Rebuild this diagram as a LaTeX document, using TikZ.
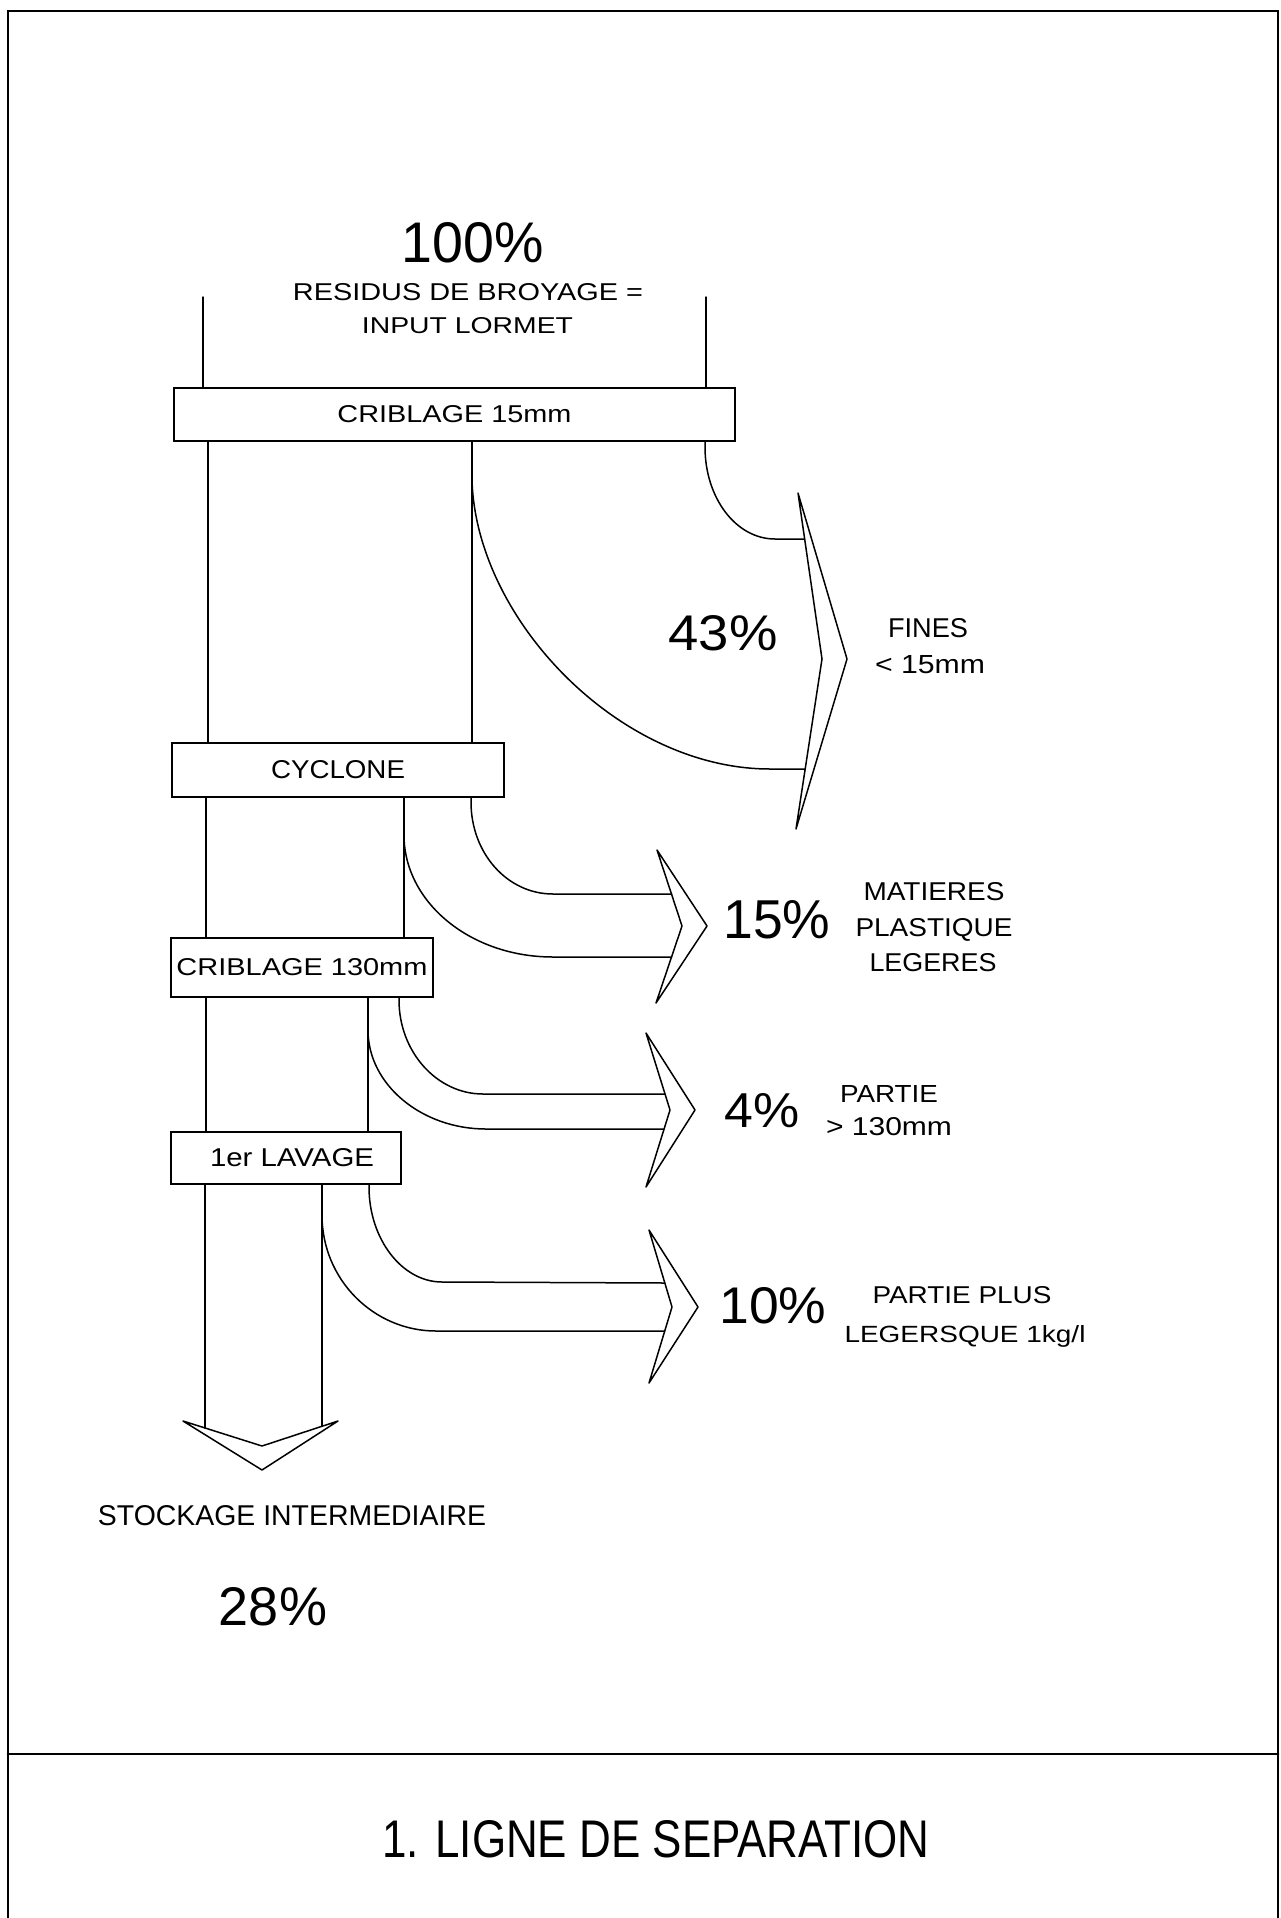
\documentclass[tikz,border=0pt]{standalone}
\usepackage{fontspec}
\setmainfont{Liberation Sans}
\usepackage{graphicx}
\newcommand{\fx}[3]{\resizebox{#1pt}{#2pt}{#3}}
\tikzset{
  ln/.style={line width=1.5pt, line cap=round, line join=round},
  frameline/.style={line width=2.8pt, line cap=round},
  box/.style={draw, line width=1.8pt, inner sep=0pt, outer sep=0pt},
  lbl/.style={inner sep=0pt, outer sep=0pt, anchor=base},
}
\begin{document}
\begin{tikzpicture}[x=1pt,y=-1pt]
\useasboundingbox (0,0) rectangle (1280,1918);
\fill[white] (0,0) rectangle (1280,1918);
% frame
\coordinate (fbl) at (8,1918);
\coordinate (ftl) at (8,11);
\coordinate (ftr) at (1278,11);
\coordinate (fbr) at (1278,1918);
\coordinate (fsl) at (8,1754);
\coordinate (fsr) at (1278,1754);
\draw[frameline] (fbl) -- (ftl) -- (ftr) -- (fbr);
\draw[frameline] (fsl) -- (fsr);

% header texts
\node[lbl] (t100) at (473,263) {\fx{142}{40}{100\%}};
\node[lbl] (tres) at (468,300) {\fx{350}{17}{RESIDUS DE BROYAGE =}};
\node[lbl] (tinp) at (467.5,333) {\fx{211}{16}{INPUT LORMET}};

% boxes
\node[box, minimum width=561pt, minimum height=53pt] (b1) at (454.5,414.5) {\fx{234}{17}{CRIBLAGE 15mm}};
\node[box, minimum width=332pt, minimum height=54pt] (b2) at (338,770) {\fx{134}{18}{CYCLONE}};
\node[box, minimum width=262pt, minimum height=59pt] (b3) at (302,967.5) {\fx{251}{17}{CRIBLAGE 130mm}};
\node[box, minimum width=230pt, minimum height=52pt] (b4) at (286,1158) {\hspace*{12pt}\fx{164}{18}{1er LAVAGE}};

% x positions of flow lines
\coordinate (in1) at (203,297);
\coordinate (in2) at (706,297);
\coordinate (x1L) at (208,0);
\coordinate (x1M) at (472,0);
\coordinate (x1R) at (705,0);
\coordinate (x2L) at (206,0);
\coordinate (x2M) at (404,0);
\coordinate (x2R) at (471,0);
\coordinate (x3L) at (206,0);
\coordinate (x3M) at (368,0);
\coordinate (x3R) at (399,0);
\coordinate (x4L) at (205,0);
\coordinate (x4M) at (322,0);
\coordinate (x4R) at (369,0);

% input lines
\draw[ln] (in1) -- (in1 |- b1.north);
\draw[ln] (in2) -- (in2 |- b1.north);

% straight lines between boxes
\draw[ln] (b1.south -| x1L) -- (b2.north -| x1L);
\draw[ln] (b1.south -| x1M) -- (b2.north -| x1M);
\draw[ln] (b2.south -| x2L) -- (b3.north -| x2L);
\draw[ln] (b2.south -| x2M) -- (b3.north -| x2M);
\draw[ln] (b3.south -| x3L) -- (b4.north -| x3L);
\draw[ln] (b3.south -| x3M) -- (b4.north -| x3M);

% chevrons
\coordinate (ta) at (798,493);  \coordinate (oa) at (847,659);  \coordinate (ba) at (796,829);  \coordinate (ia) at (822,659);
\coordinate (tb) at (657,850);  \coordinate (ob) at (707,926);  \coordinate (bb) at (656,1003); \coordinate (ib) at (682,926);
\coordinate (tc) at (646,1033); \coordinate (oc) at (695,1110); \coordinate (bc) at (646,1187); \coordinate (ic) at (670,1110);
\coordinate (td) at (649,1230); \coordinate (od) at (698,1307); \coordinate (bd) at (649,1383); \coordinate (id) at (672,1307);
\coordinate (pl) at (183,1421); \coordinate (pi) at (262,1446); \coordinate (pr) at (338,1421); \coordinate (pb) at (262,1470);
\draw[ln] (ta) -- (oa) -- (ba) -- (ia) -- cycle;
\draw[ln] (tb) -- (ob) -- (bb) -- (ib) -- cycle;
\draw[ln] (tc) -- (oc) -- (bc) -- (ic) -- cycle;
\draw[ln] (td) -- (od) -- (bd) -- (id) -- cycle;
\draw[ln] (pl) -- (pi) -- (pr) -- (pb) -- cycle;

% band end points on chevrons
\coordinate (eau) at (804.6,539);
\coordinate (eal) at (805.2,769);
\coordinate (ebu) at (671.5,894);
\coordinate (ebl) at (671.5,957);
\coordinate (ecu) at (665,1094);
\coordinate (ecl) at (664,1129);
\coordinate (edu) at (664.8,1283);
\coordinate (edl) at (664.7,1331);
\coordinate (sa) at (472,480);
\coordinate (sb) at (404,835);
\coordinate (sc) at (368,1030);
\coordinate (sd) at (322,1215);

% band 1 (43%)
\draw[ln] (b1.south -| x1R) -- (705,447) .. controls (705,498) and (736,539) .. (775,539) -- (eau);
\draw[ln] (sa) .. controls (476,620) and (620,769) .. (770,769) -- (eal);
% band 2 (15%)
\draw[ln] (b2.south -| x2R) -- (471,802) .. controls (471,853) and (507,894) .. (553,894) -- (ebu);
\draw[ln] (sb) .. controls (404,902) and (470,957) .. (553,957) -- (ebl);
% band 3 (4%)
\draw[ln] (b3.south -| x3R) -- (399,1000) .. controls (399,1052) and (437,1094) .. (483,1094) -- (ecu);
\draw[ln] (sc) .. controls (368,1085) and (422,1129) .. (486,1129) -- (ecl);
% band 4 (10%)
\draw[ln] (b4.south -| x4R) -- (369,1187) .. controls (369,1239) and (402,1282) .. (442,1282) -- (edu);
\draw[ln] (sd) .. controls (322,1280) and (374,1331) .. (436,1331) -- (edl);
% output down
\draw[ln] (b4.south -| x4L) -- (205,1428);
\draw[ln] (b4.south -| x4M) -- (322,1426.3);

% labels
\node[lbl] (p43) at (723,650) {\fx{109}{35}{43\%}};
\node[lbl] (lfin1) at (928,637) {\fx{80}{19}{FINES}};
\node[lbl] (lfin2) at (930,673) {\fx{110}{18}{< 15mm}};
\node[lbl] (p15) at (777,938) {\fx{107}{38}{15\%}};
\node[lbl] (lmat1) at (934,900) {\fx{141}{18}{MATIERES}};
\node[lbl] (lmat2) at (934,936) {\fx{157}{18}{PLASTIQUE}};
\node[lbl] (lmat3) at (933,971) {\fx{127}{18}{LEGERES}};
\node[lbl] (p4) at (762,1127) {\fx{75}{34}{4\%}};
\node[lbl] (lpar1) at (889,1102) {\fx{98}{17}{PARTIE}};
\node[lbl] (lpar2) at (889,1135) {\fx{126}{18}{> 130mm}};
\node[lbl] (p10) at (773,1323) {\fx{107}{36}{10\%}};
\node[lbl] (lleg1) at (962,1303) {\fx{179}{17}{PARTIE PLUS}};
\node[lbl] (lleg2) at (965,1342) {\fx{241}{17}{LEGERSQUE 1kg/l}};
\node[lbl] (lsto) at (292,1525) {\fx{388}{20}{STOCKAGE INTERMEDIAIRE}};
\node[lbl] (p28) at (273,1625) {\fx{108}{38}{28\%}};
\node[lbl] (ltitle) at (656,1857) {\fx{547}{37}{1. LIGNE DE SEPARATION}};
\end{tikzpicture}
\end{document}
